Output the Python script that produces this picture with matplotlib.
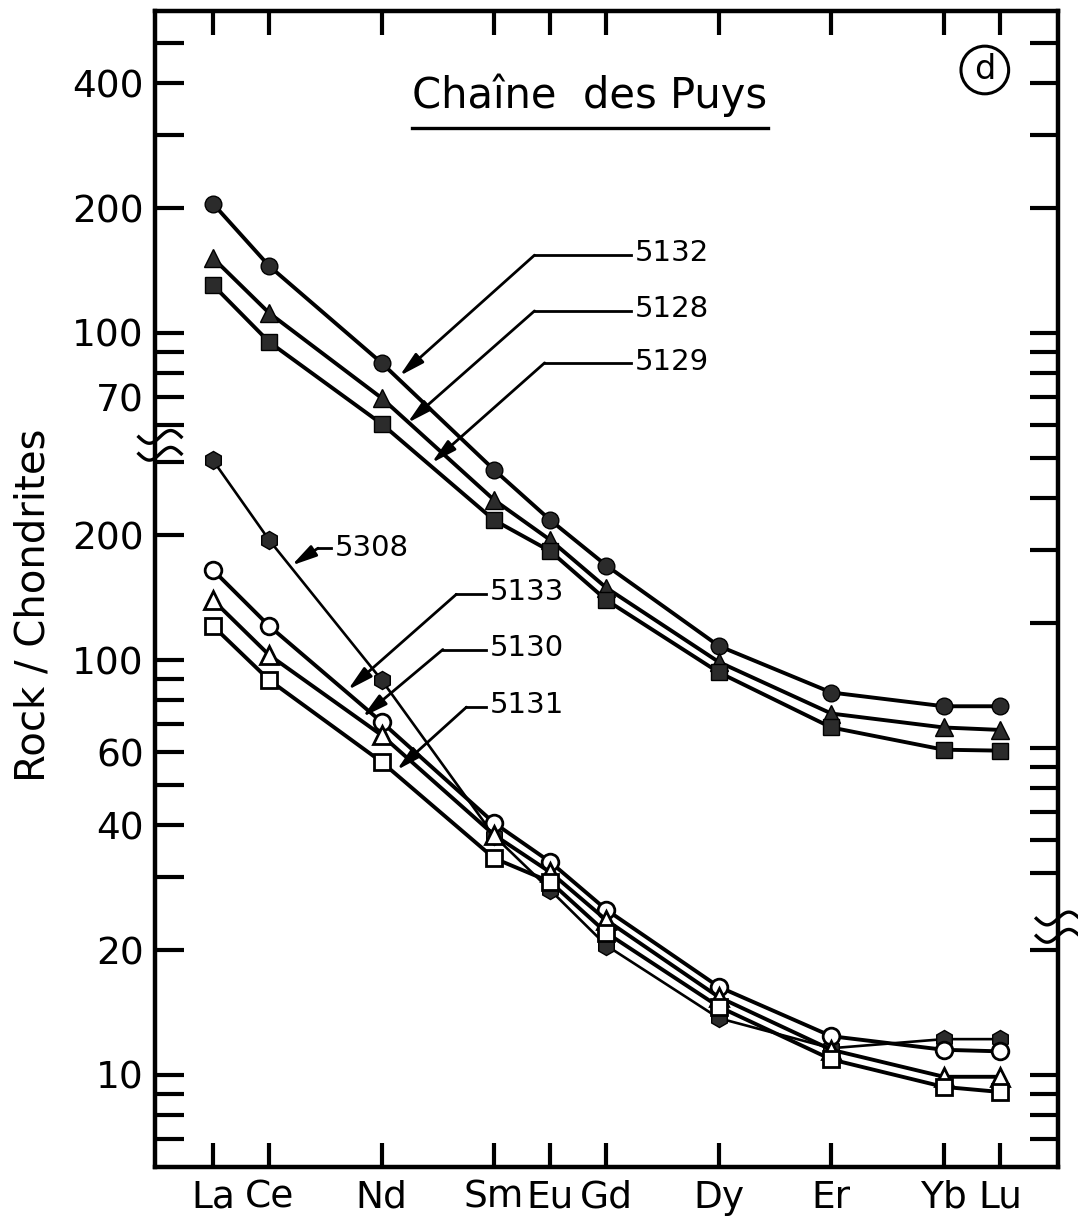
import numpy as np
import matplotlib
matplotlib.use("Agg")
import matplotlib.pyplot as plt
from matplotlib.ticker import FixedLocator, NullLocator

# REE on the x axis, placed by atomic number
ree = ["La", "Ce", "Nd", "Sm", "Eu", "Gd", "Dy", "Er", "Yb", "Lu"]
z = [57, 58, 60, 62, 63, 64, 66, 68, 70, 71]

# upper group (read on the upper scale)
s5132 = [205, 145, 84.7, 46.8, 35.4, 27.5, 17.6, 13.6, 12.6, 12.6]
s5128 = [151.6, 111.7, 69.7, 39.6, 31.7, 24.3, 16.1, 12.1, 11.2, 11.05]
s5129 = [130.5, 95.1, 60.4, 35.4, 29.8, 22.7, 15.2, 11.2, 9.9, 9.85]

# lower group (read on the lower scale)
s5308 = [303, 194.6, 89.5, 37.7, 27.9, 20.5, 13.7, 11.6, 12.2, 12.2]
s5133 = [164.8, 120.8, 70.9, 40.5, 32.6, 25.0, 16.3, 12.4, 11.5, 11.4]
s5130 = [139.5, 102.8, 65.9, 37.9, 30.8, 23.6, 15.4, 11.5, 9.9, 9.9]
s5131 = [120.8, 89.5, 56.8, 33.3, 29.2, 22.0, 14.6, 10.9, 9.36, 9.1]

# the upper scale is shifted against the lower one
OFFSET = 6.14

upper_ticks = [500, 400, 300, 200, 100, 90, 80, 70, 60]
upper_labels = {400: "400", 200: "200", 100: "100", 70: "70"}
lower_ticks = [300, 200, 100, 90, 80, 70, 60, 50, 40, 30, 20, 10, 9, 8, 7]
lower_labels = {200: "200", 100: "100", 60: "60", 40: "40", 20: "20", 10: "10"}
right_upper = [500, 400, 300, 200, 100, 90, 80, 70, 60, 50, 40, 30, 20,
               10, 9, 8, 7, 6, 5]
right_lower = [20, 10, 9, 8, 7]

fig = plt.figure(figsize=(10.78, 12.26), dpi=100)
ax = fig.add_axes([0.1438, 0.0481, 0.8376, 0.9429])
ax.set_yscale("log")
ax.set_xlim(55.97, 72.03)
ax.set_ylim(6.0, 3664)

lw = 2.8
ax.plot(z, [v * OFFSET for v in s5132], "-o", color="k", lw=lw, ms=12,
        mfc="#2b2b2b", mec="k", zorder=3)
ax.plot(z, [v * OFFSET for v in s5128], "-^", color="k", lw=lw, ms=13,
        mfc="#2b2b2b", mec="k", zorder=3)
ax.plot(z, [v * OFFSET for v in s5129], "-s", color="k", lw=lw, ms=11,
        mfc="#2b2b2b", mec="k", zorder=3)

ax.plot(z, s5308, "-h", color="k", lw=1.9, ms=13, mfc="#2b2b2b", mec="k",
        zorder=2)
ax.plot(z, s5133, "-o", color="k", lw=lw, ms=12, mfc="white", mec="k",
        mew=2, zorder=4)
ax.plot(z, s5130, "-^", color="k", lw=lw, ms=13, mfc="white", mec="k",
        mew=2, zorder=4)
ax.plot(z, s5131, "-s", color="k", lw=lw, ms=11, mfc="white", mec="k",
        mew=2, zorder=4)

# axes look
for sp in ax.spines.values():
    sp.set_linewidth(3.2)

ax.set_xticks(z)
ax.set_xticklabels(ree)
ax.tick_params(axis="x", direction="in", length=17, width=3, top=True,
               bottom=True, labelsize=27, pad=9)

left_pos = [t * OFFSET for t in upper_ticks] + lower_ticks
left_lab = [upper_labels.get(t, "") for t in upper_ticks] + \
           [lower_labels.get(t, "") for t in lower_ticks]
ax.yaxis.set_major_locator(FixedLocator(left_pos))
ax.yaxis.set_minor_locator(NullLocator())
ax.set_yticklabels(left_lab)
ax.tick_params(axis="y", direction="in", length=21, width=3, labelsize=27,
               pad=8)

ax2 = ax.twinx()
ax2.set_yscale("log")
ax2.set_ylim(ax.get_ylim())
ax2.yaxis.set_major_locator(FixedLocator([t * OFFSET for t in right_upper]
                                         + right_lower))
ax2.yaxis.set_minor_locator(NullLocator())
ax2.set_yticklabels([])
ax2.tick_params(axis="y", direction="in", length=20, width=3)
for sp in ax2.spines.values():
    sp.set_visible(False)

ax.set_ylabel("Rock / Chondrites", fontsize=29)
ax.yaxis.set_label_coords(-0.112, 0.486)

# breaks in the scale
t = np.linspace(0, 1, 60)
for y0 in (0.6316, 0.6170):
    ax.plot(-0.018 + 0.047 * t, y0 + 0.0055 * np.sin(2 * np.pi * t + np.pi),
            color="k", lw=2.4, transform=ax.transAxes, clip_on=False,
            zorder=6)
for y0 in (0.2150, 0.2000):
    ax.plot(0.976 + 0.048 * t, y0 + 0.0055 * np.sin(2 * np.pi * t + np.pi),
            color="k", lw=2.4, transform=ax.transAxes, clip_on=False,
            zorder=6)

# title and panel letter
ax.text(0.4817, 0.927, "Chaîne  des Puys", transform=ax.transAxes,
        ha="center", va="center", fontsize=30)
ax.plot([0.2846, 0.679], [0.899, 0.899], color="k", lw=2.4,
        transform=ax.transAxes)
ax.text(0.919, 0.949, "d", transform=ax.transAxes, ha="center",
        va="center", fontsize=24,
        bbox=dict(boxstyle="circle,pad=0.22", fc="white", ec="k", lw=2.2))

# sample labels with leader arrows: (label, text pos, elbow, tip)
upper_notes = [
    ("5132", (64.50, 156), (62.72, 154), (60.32, 78.8)),
    ("5128", (64.50, 114), (62.72, 113), (60.46, 60.7)),
    ("5129", (64.50, 85), (62.90, 84.7), (60.89, 48.6)),
]
lower_notes = [
    ("5308", (59.17, 186), (58.87, 186), (58.40, 169)),
    ("5133", (61.92, 146), (61.33, 144), (59.40, 84.7)),
    ("5130", (61.92, 107), (61.09, 106), (59.66, 72.9)),
    ("5131", (61.92, 77.9), (61.51, 77.0), (60.27, 54.3)),
]
notes = [(n, (p[0], p[1] * OFFSET), (e[0], e[1] * OFFSET),
          (q[0], q[1] * OFFSET)) for n, p, e, q in upper_notes] + lower_notes

for name, pos, elbow, tip in notes:
    ax.text(pos[0], pos[1], name, ha="left", va="center", fontsize=21)
    ax.plot([pos[0] - 0.07, elbow[0]], [elbow[1], elbow[1]], color="k",
            lw=2)
    ax.annotate("", xy=tip, xytext=elbow,
                arrowprops=dict(arrowstyle="-|>,head_length=1.0,head_width=0.25",
                                lw=2, color="k", mutation_scale=15,
                                shrinkA=0, shrinkB=0))

fig.savefig("out.png", dpi=100)
